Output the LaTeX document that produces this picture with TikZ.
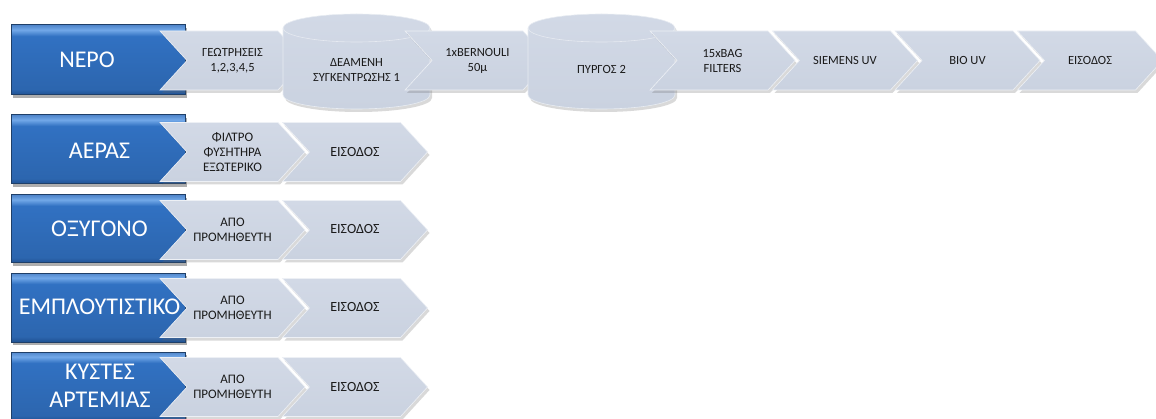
\documentclass[tikz,border=0pt]{standalone}
\usepackage{fontspec}
\setmainfont{Carlito}
\usetikzlibrary{shadows}
\definecolor{chevtop}{HTML}{D2D9E6}
\definecolor{chevbot}{HTML}{CAD2E0}
\definecolor{bluetop}{HTML}{72A8E8}
\definecolor{bluemid}{HTML}{3171C2}
\definecolor{bluebot}{HTML}{1F5192}
\definecolor{blueedge}{HTML}{1F3F68}
\definecolor{txt}{HTML}{1A1A1A}
\pgfdeclareverticalshading{bluebev}{100bp}{color(0bp)=(bluebot); color(25bp)=(bluebot); color(29bp)=(bluemid!90!black);
  color(67bp)=(bluemid); color(71.5bp)=(bluetop); color(75bp)=(bluemid!85!white); color(100bp)=(bluemid!85!white)}
\tikzset{
  chevshape/.style={top color=chevtop, bottom color=chevbot, draw=white!60!chevtop, line width=0.6pt,
    drop shadow={opacity=0.25, shadow xshift=2pt, shadow yshift=-3pt, fill=black!60}},
  cylshape/.style={top color=chevtop, bottom color=chevbot, draw=white!50!chevtop, line width=0.6pt,
    drop shadow={opacity=0.25, shadow xshift=2pt, shadow yshift=-3pt, fill=black!60}},
  bluebox/.style={draw=blueedge, line width=1pt, shading=bluebev,
    drop shadow={opacity=0.45, shadow xshift=2pt, shadow yshift=-3pt, fill=black!70}},
  bluetext/.style={text=white, font=\fontsize{24}{28}\selectfont, align=center, inner sep=0pt},
  smalltext/.style={text=txt, font=\fontsize{12.5}{15}\selectfont, align=center, inner sep=0pt},
  midtext/.style={text=txt, font=\fontsize{13}{15}\selectfont, align=center, inner sep=0pt},
  endtext/.style={text=txt, font=\fontsize{14}{16}\selectfont, align=center, inner sep=0pt},
}
\newcommand{\chevpath}[2]{%
  \path[chevshape] ({#1},{#2-29.5}) -- ({#1+118},{#2-29.5}) -- ({#1+145},{#2}) -- ({#1+118},{#2+29.5})
    -- ({#1},{#2+29.5}) -- ({#1+27},{#2}) -- cycle;}
\newcommand{\cylpath}[1]{%
  \path[cylshape] ({#1-73.5},390) -- ({#1-73.5},323) arc[start angle=180, end angle=360, x radius=73.5, y radius=14]
    -- ({#1+73.5},390) arc[start angle=0, end angle=180, x radius=73.5, y radius=14] -- cycle;
  \draw[white!45!chevtop, line width=0.6pt] ({#1-73.5},390) arc[start angle=180, end angle=360, x radius=73.5, y radius=14];}
\newcommand{\bluepath}[2]{%
  \path[bluebox] (11,{#1}) rectangle (185,{#2});}
\begin{document}
\begin{tikzpicture}[x=1pt, y=1pt]
\useasboundingbox (0,0) rectangle (1156,418);
\clip (0,0) rectangle (1156,418);
% ---------- Row 1 : NEPO ----------
\bluepath{323}{393}
\chevpath{160}{357.5}
\cylpath{356.5}
\chevpath{405}{357.5}
\cylpath{601.5}
\chevpath{650}{357.5}
\chevpath{772.5}{357.5}
\chevpath{895}{357.5}
\chevpath{1017.5}{357.5}
\node[bluetext] (b1) at (87,358.5) {ΝΕΡΟ};
\node[smalltext] (n10) at (232.5,357.5) {ΓΕΩΤΡΗΣΕΙΣ\\1,2,3,4,5};
\node[smalltext] (n11) at (356.5,348.5) {ΔΕΑΜΕΝΗ\\ΣΥΓΚΕΝΤΡΩΣΗΣ 1};
\node[smalltext] (n12) at (477.5,357.5) {1xBERNOULI\\50μ};
\node[smalltext] (n13) at (601.5,348.5) {ΠΥΡΓΟΣ 2};
\node[smalltext] (n14) at (722.5,357.5) {15xBAG\\FILTERS};
\node[smalltext] (n15) at (845,357.5) {SIEMENS UV};
\node[smalltext] (n16) at (967.5,357.5) {BIO UV};
\node[smalltext] (n17) at (1090,357.5) {ΕΙΣΟΔΟΣ};
% ---------- Row 2 : AEPAS ----------
\bluepath{234}{303}
\chevpath{160}{266}
\chevpath{282.5}{266}
\node[bluetext] (b2) at (99.5,267) {ΑΕΡΑΣ};
\node[midtext] (n20) at (232.5,266) {ΦΙΛΤΡΟ\\ΦΥΣΗΤΗΡΑ\\ΕΞΩΤΕΡΙΚΟ};
\node[endtext] (n21) at (355,266) {ΕΙΣΟΔΟΣ};
% ---------- Row 3 : OXYGONO ----------
\bluepath{155}{223}
\chevpath{160}{188}
\chevpath{282.5}{188}
\node[bluetext] (b3) at (99.5,189) {ΟΞΥΓΟΝΟ};
\node[midtext] (n30) at (232.5,188) {ΑΠΟ\\ΠΡΟΜΗΘΕΥΤΗ};
\node[endtext] (n31) at (355,189) {ΕΙΣΟΔΟΣ};
% ---------- Row 4 : EMPLOUTISTIKO ----------
\bluepath{76}{145}
\chevpath{160}{110}
\chevpath{282.5}{110}
\node[bluetext] (b4) at (99.5,111) {ΕΜΠΛΟΥΤΙΣΤΙΚΟ};
\node[midtext] (n40) at (232.5,110) {ΑΠΟ\\ΠΡΟΜΗΘΕΥΤΗ};
\node[endtext] (n41) at (355,111) {ΕΙΣΟΔΟΣ};
% ---------- Row 5 : KYSTES ARTEMIAS ----------
\bluepath{-3}{66}
\chevpath{160}{31}
\chevpath{282.5}{31}
\node[bluetext] (b5) at (100,32) {ΚΥΣΤΕΣ\\ΑΡΤΕΜΙΑΣ};
\node[midtext] (n50) at (232.5,31) {ΑΠΟ\\ΠΡΟΜΗΘΕΥΤΗ};
\node[endtext] (n51) at (355,31) {ΕΙΣΟΔΟΣ};
\end{tikzpicture}
\end{document}
